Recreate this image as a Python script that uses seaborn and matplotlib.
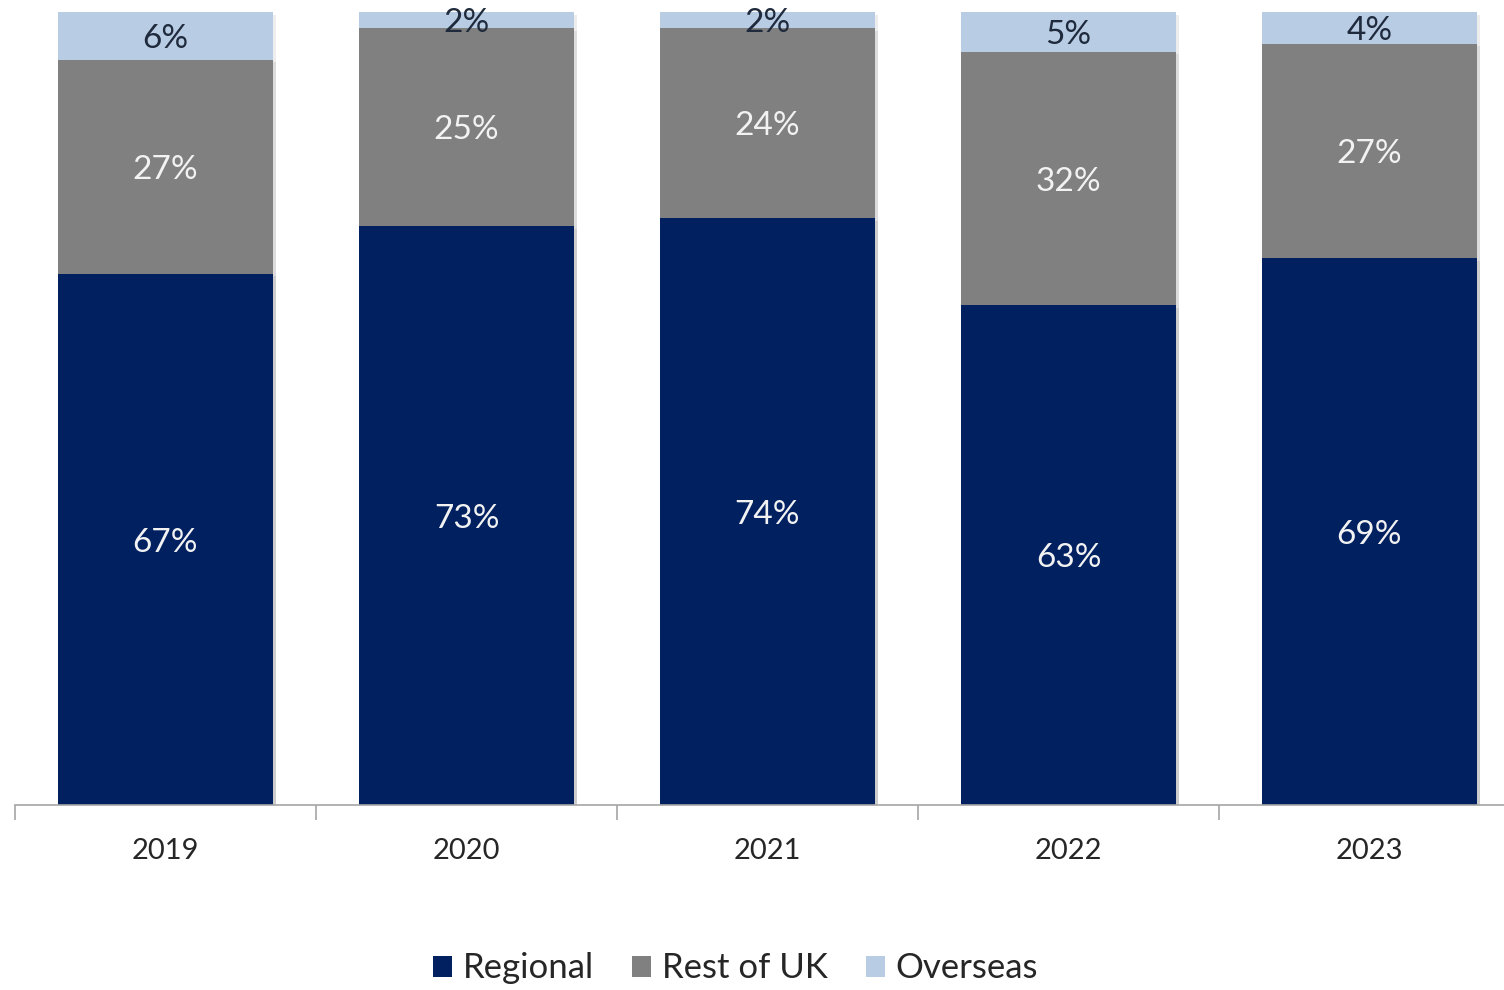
import matplotlib
matplotlib.use("Agg")
import matplotlib.pyplot as plt
import matplotlib.patheffects as pe
from matplotlib.patches import Patch
import numpy as np
import seaborn as sns

years = ["2019", "2020", "2021", "2022", "2023"]
regional = [67, 73, 74, 63, 69]
rest_of_uk = [27, 25, 24, 32, 27]
overseas = [6, 2, 2, 5, 4]

series_names = ["Regional", "Rest of UK", "Overseas"]
colors = ["#002060", "#808080", "#B8CCE4"]
label_colors = ["#F2F2F2", "#F2F2F2", "#1F2A3C"]

sns.set_theme(style="white")
plt.rcParams["font.family"] = ["Lato", "DejaVu Sans"]

fig = plt.figure(figsize=(15.04, 9.9), dpi=100)
ax = fig.add_axes([15 / 1504, 185 / 990, 1505 / 1504, 793 / 990])

values = [np.array(regional), np.array(rest_of_uk), np.array(overseas)]
tops = np.cumsum(values, axis=0)
shadow = [pe.SimplePatchShadow(offset=(2, -2), alpha=0.07, shadow_rgbFace="#000000"), pe.Normal()]

# draw cumulative totals from the back so each visible band is one series
for i in range(2, -1, -1):
    sns.barplot(x=years, y=tops[i], color=colors[i], width=0.715,
                saturation=1, ax=ax, linewidth=0)

for bar in ax.patches:
    bar.set_path_effects(shadow)

for i in range(3):
    bottoms = tops[i] - values[i]
    for j, year in enumerate(years):
        ax.text(j, bottoms[j] + values[i][j] / 2 - 0.4, f"{values[i][j]}%",
                ha="center", va="center", fontsize=24,
                color=label_colors[i], clip_on=False)

ax.set_xlim(-0.5, 4.5)
ax.set_ylim(0, 100)
ax.set_yticks([])
ax.set_ylabel("")
ax.set_xlabel("")
for side in ["left", "right", "top"]:
    ax.spines[side].set_visible(False)
ax.spines["bottom"].set_color("#A6A6A6")
ax.spines["bottom"].set_linewidth(1.2)

ax.set_xticks(range(len(years)))
ax.set_xticklabels(years, fontsize=21, color="#262626")
ax.tick_params(axis="x", which="major", length=0, pad=24)
ax.set_xticks(np.arange(-0.5, 5, 1.0), minor=True)
ax.tick_params(axis="x", which="minor", length=11, width=1.2, color="#A6A6A6", bottom=True)

handles = [Patch(facecolor=c, edgecolor="none") for c in colors]
fig.legend(handles, series_names, loc="lower center", bbox_to_anchor=(0.489, -0.026),
           ncol=3, frameon=False, fontsize=25, handlelength=0.55, handleheight=0.55,
           handletextpad=0.3, columnspacing=1.1, labelcolor="#262626")

fig.savefig("out.png", dpi=100, facecolor="white")
